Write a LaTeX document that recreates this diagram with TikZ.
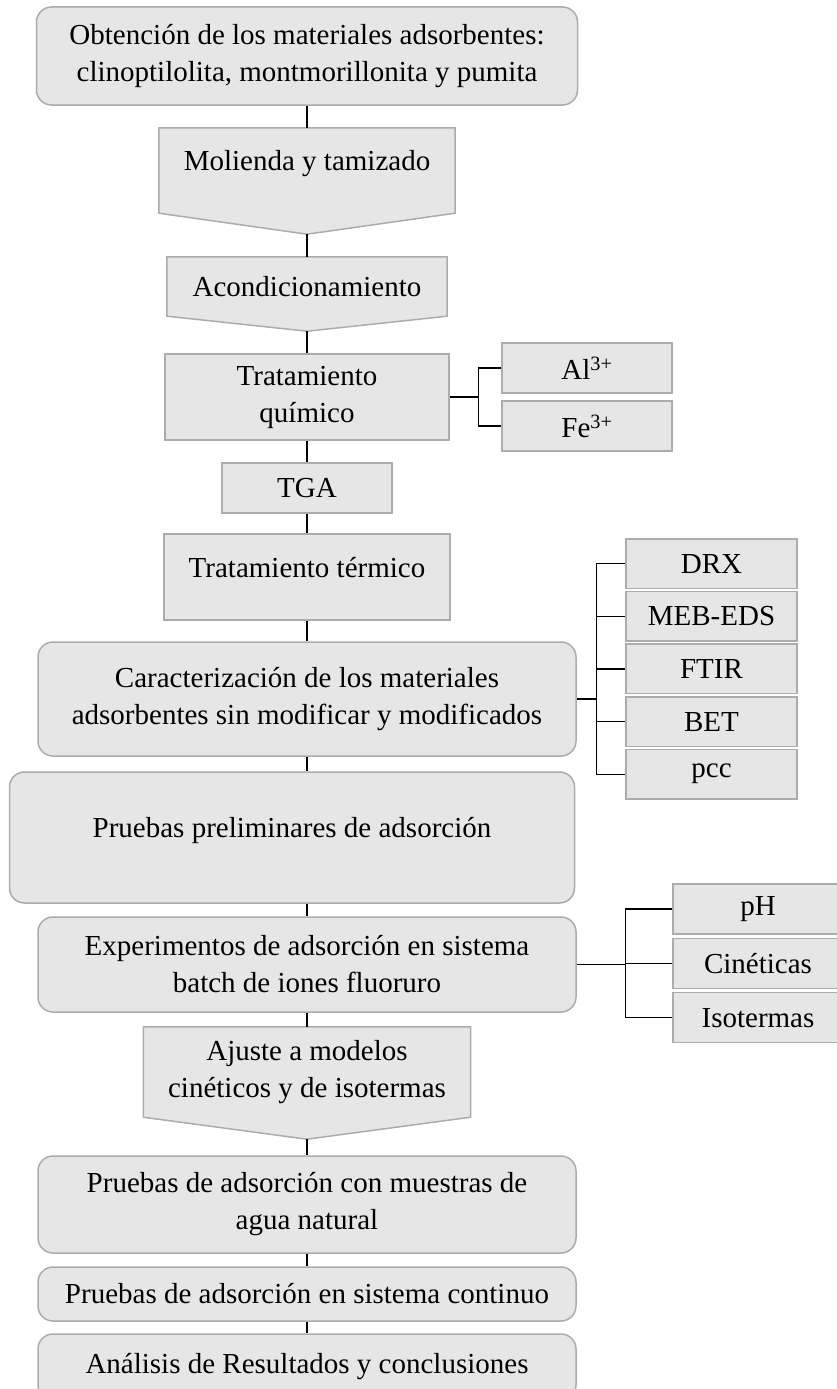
\documentclass[tikz,border=0pt]{standalone}
\usepackage{fontspec}
\setmainfont{Liberation Serif}
\usetikzlibrary{backgrounds}
\definecolor{boxfill}{RGB}{230,230,230}
\definecolor{boxline}{RGB}{172,172,172}
\begin{document}
\begin{tikzpicture}[x=1pt,y=-1pt,font=\fontsize{29}{37}\selectfont,
    box/.style={draw=boxline,fill=boxfill,line width=1.5pt,align=center,inner sep=0pt},
    rbox/.style={box,rounded corners=15pt},
    chev/.style={align=center,inner sep=0pt},
    chevbody/.style={draw=boxline,fill=boxfill,line width=1.5pt},
    uptext/.style={text height=20pt,text depth=20pt},
    link/.style={draw=black,line width=1.3pt}]
  \useasboundingbox (0,0) rectangle (836,1389);

  \node[rbox, minimum width=541pt, minimum height=98pt] (obt) at (307,56) {Obtención de los materiales adsorbentes:\\clinoptilolita, montmorillonita y pumita};
  \node[chev, uptext, minimum width=296pt, minimum height=85pt] (mol) at (307,170.5) {Molienda y tamizado};
  \node[chev, minimum width=280pt, minimum height=59pt] (acon) at (307,286.5) {Acondicionamiento};
  \node[box, minimum width=284pt, minimum height=86pt] (quim) at (307,397) {Tratamiento\\químico};
  \node[box, minimum width=170pt, minimum height=50pt] (al) at (587,368) {Al\textsuperscript{3+}};
  \node[box, minimum width=170pt, minimum height=50pt] (fe) at (587,426) {Fe\textsuperscript{3+}};
  \node[box, minimum width=170pt, minimum height=50pt] (tga) at (307,488) {TGA};
  \node[box, uptext, minimum width=286pt, minimum height=86pt] (term) at (307,577) {Tratamiento térmico};
  \node[rbox, minimum width=538pt, minimum height=114pt] (car) at (307,699) {Caracterización de los materiales\\adsorbentes sin modificar y modificados};
  \foreach \n/\t [count=\i from 0] in {drx/DRX,meb/MEB-EDS,ftir/FTIR,bet/BET,pcc/pcc}
    \node[box, minimum width=171pt, minimum height=49.5pt] (\n) at (711.5,563.75+52.6*\i) {\t};
  \node[rbox, uptext, minimum width=565pt, minimum height=131pt] (pre) at (292,837.5) {Pruebas preliminares de adsorción};
  \node[rbox, minimum width=538pt, minimum height=95pt] (exp) at (307,964.5) {Experimentos de adsorción en sistema\\batch de iones fluoruro};
  \foreach \n/\t [count=\i from 0] in {ph/pH,cin/Cinéticas,iso/Isotermas}
    \node[box, minimum width=170pt, minimum height=50pt] (\n) at (758,909+54.35*\i) {\t};
  \node[chev, minimum width=327pt, minimum height=90pt] (aju) at (307,1072) {Ajuste a modelos\\cinéticos y de isotermas};
  \node[rbox, minimum width=538pt, minimum height=97pt] (agua) at (307,1204.5) {Pruebas de adsorción con muestras de\\agua natural};
  \node[rbox, minimum width=538pt, minimum height=54pt] (cont) at (307,1294) {Pruebas de adsorción en sistema continuo};
  \node[rbox, minimum width=538pt, minimum height=66pt] (ana) at (307,1367) {Análisis de Resultados y conclusiones};

  % tips of the arrow shaped boxes
  \coordinate (moltip) at ([shift={(0,21)}]mol.south);
  \coordinate (acontip) at ([shift={(0,15)}]acon.south);
  \coordinate (ajutip) at ([shift={(0,22)}]aju.south);
  \begin{scope}[on background layer]
    \path[chevbody] (mol.north west) -- (mol.north east) -- (mol.south east) -- (moltip) -- (mol.south west) -- cycle;
    \path[chevbody] (acon.north west) -- (acon.north east) -- (acon.south east) -- (acontip) -- (acon.south west) -- cycle;
    \path[chevbody] (aju.north west) -- (aju.north east) -- (aju.south east) -- (ajutip) -- (aju.south west) -- cycle;
  \end{scope}

  \draw[link] (obt) -- (mol);
  \draw[link] (moltip) -- (acon);
  \draw[link] (acontip) -- (quim);
  \draw[link] (quim) -- (tga);
  \draw[link] (tga) -- (term);
  \draw[link] (term) -- (car);
  \draw[link] (car.south) -- (car.south |- pre.north);
  \draw[link] (exp.north |- pre.south) -- (exp.north);
  \draw[link] (exp) -- (aju);
  \draw[link] (ajutip) -- (agua);
  \draw[link] (agua) -- (cont);
  \draw[link] (cont) -- (ana);

  % side branches
  \draw[link] (quim.east) -- ++(29,0) coordinate (qb);
  \draw[link] (al.west) -| (qb) |- (fe.west);
  \draw[link] (car.east) -- ++(20,0) coordinate (cb);
  \foreach \n in {drx,meb,ftir,bet,pcc} \draw[link] (cb) |- (\n.west);
  \draw[link] (exp.east) -- ++(49,0) coordinate (eb);
  \foreach \n in {ph,cin,iso} \draw[link] (eb) |- (\n.west);
\end{tikzpicture}
\end{document}
